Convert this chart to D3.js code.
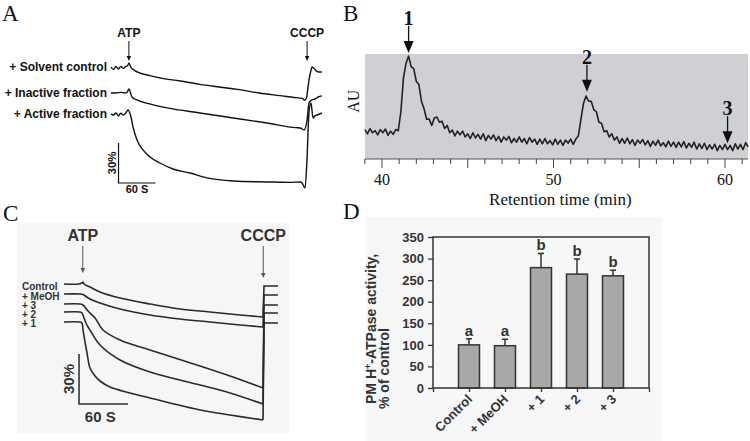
<!DOCTYPE html>
<html><head><meta charset="utf-8">
<script src="https://cdn.jsdelivr.net/npm/d3@7"></script>
<style>body{margin:0;background:#fff}svg{display:block}</style>
</head><body>
<svg id="fig" width="750" height="441"></svg>
<script>
// ---------------- DATA ----------------
// Panel A: fluorescence traces [time (s), signal (%)]
const traceA_solvent = [[0,87],[4,85],[8,87.5],[12,85.5],[16,87.5],[20,86],[24,87.5],[27,88],[29,90],[32,87],[38,84.5],[47,82.5],[63,80.5],[79,78.8],[112,76.5],[144,74],[176,72],[209,70],[240,67.5],[274,65.5],[300,64],[310,63.5],[314,62],[317,64],[321,77],[324,84],[326,87],[329,86],[332,84.5],[336,83.3],[342,83.3]];
const traceA_inactive = [[0,67.5],[8,67.5],[16,68],[22,67.5],[26,68],[29,70.5],[34,64.5],[42,62.3],[63,59.3],[91,56.3],[144,52.5],[198,48.8],[253,45],[300,41.5],[307,41.3],[313,39.8],[318,47.3],[321,60],[326,62.3],[331,63],[336,64.5],[342,65.3]];
const traceA_active = [[0,51.8],[4,51],[8,52.5],[12,50.3],[16,52.3],[20,51],[24,52.5],[27.6,54.8],[32.4,49.5],[35.7,42],[42.2,32.3],[51.9,24.8],[63.2,19.5],[79.5,15],[100.5,10.5],[128,7.5],[155.7,3.8],[197.8,1.5],[253,0.8],[290,0.5],[306.5,0.8],[310,0],[314.6,-3.8],[317.8,17.3],[321,52.5],[324.3,60],[327.6,48.8],[331,50.5],[334,51],[342,52.5]];
const labelsA = ["+ Solvent control", "+ Inactive fraction", "+ Active fraction"];
const labelValuesA = [87, 67.5, 51.8];
const eventsA = [["ATP", 29], ["CCCP", 318]];

// Panel B: chromatogram, absorbance (AU) sampled every 0.15 min from 39.0 min
const rtStart = 39.0, rtStep = 0.15;
const auValues = [28,24,29,25,27,23,28,25,28.5,22.5,26.5,23.5,28,27,45,77,91,98,88,86,74,71,55,48,38,38,32,39,40,35,36,29,32,25,27.5,22,26.5,23,26.5,21,24,19.5,25,20,23.5,19,24,17.5,22.5,19,23,17.5,21.5,16,21,18,21.5,15.5,19.5,16,21,16,19.5,14.5,20.5,16,19,14,19,14.5,19.5,14.5,17.5,13.5,19,14,18,13,18,15,19,14,19,22,38,53,60,55,55,47,45,35,34,26,27,21,24,18,21,15,19.5,15,20,14.5,18.5,13,18,15,18.5,13.5,17.5,12,17,13,18,12.5,15.5,11.5,17,12,16,11,16,11.5,16.5,10.5,15,11,16,9.5,14.5,10,15,9,13.5,9.5,14,8,13,9,14,9,13,8,14.5,9.5,14,9,15.5,11.5];
const peakLabels = ["1", "2", "3"];
const peakTimes = [41.55, 51.95, 60.15];
const peakArrowTips = [101, 64, 15];
const rtTickLabels = [40, 50, 60];
const rtMajorTicks = [40, 45, 50, 55, 60];
const rtMinorTicks = [39,41,42,43,44,46,47,48,49,51,52,53,54,56,57,58,59,61];

// Panel C: fluorescence traces [time (s), signal (%)]; last two points = CCCP recovery
const traceC_control = [[0,87.6],[18,87.6],[22,88.2],[23.3,88.8],[24.5,87.6],[31.8,85.8],[44.1,82.8],[68.6,79.2],[105.3,75.6],[142,72.6],[178.8,70.8],[215.5,69],[243.7,67.8],[244.9,86.4],[262,86.4]];
const traceC_meoh = [[0,81.6],[19.6,81.6],[23.3,81.3],[24.5,81],[31.8,78.6],[44.1,76.2],[68.6,72.6],[105.3,69],[142,66.6],[178.8,64.8],[215.5,63],[243.7,61.8],[244.9,81],[262,81]];
const traceC_3 = [[0,75.6],[19.6,75.6],[23.3,75],[29.4,71.4],[38,67.2],[47.8,60],[68.6,54],[105.3,48],[166.5,38.4],[203.3,32.4],[243.7,25.2],[244.9,75],[262,75]];
const traceC_2 = [[0,70.8],[19.6,70.8],[22,70.2],[24.5,67.2],[26.9,64.2],[29.4,61.8],[31.8,60],[44.1,51],[68.6,42],[105.3,34.8],[166.5,27],[203.3,22.2],[243.7,15.6],[244.9,70.2],[262,70.2]];
const traceC_1 = [[0,64.8],[19.6,64.8],[22,64.2],[23.3,60],[25.7,52.8],[28.2,46.2],[31.8,37.2],[38,32.4],[44.1,29.4],[56.3,25.8],[80.8,22.2],[105.3,19.2],[166.5,12],[203.3,9],[243.7,6],[244.9,64.2],[262,64.2]];
const labelsC = ["Control", "+ MeOH", "+ 3", "+ 2", "+ 1"];
const labelValuesC = [86.4, 80.4, 75, 69.6, 64.2];
const eventsC = [["ATP", 23], ["CCCP", 244]];

// Panel D: bar chart
const dCategories = ["Control", "+ MeOH", "+ 1", "+ 2", "+ 3"];
const dValues = [100, 98, 279, 264, 260];
const dErrors = [14, 15, 33, 35, 13];
const dLetters = ["a", "a", "b", "b", "b"];
const dTicks = [0, 50, 100, 150, 200, 250, 300, 350];

// ---------------- DRAWING ----------------
const SANS = "'Liberation Sans', Arial, sans-serif";
const SERIF = "'Liberation Serif', 'Times New Roman', serif";
const svg = d3.select("#fig");

function panelLetter(t, x, y) {
  svg.append("text").attr("x", x).attr("y", y).text(t)
    .attr("font-family", SERIF).attr("font-size", 23).attr("fill", "#111");
}
function thinArrow(g, x, y1, y2, color, head) {
  g.append("line").attr("x1", x).attr("x2", x).attr("y1", y1).attr("y2", y2 - head)
    .attr("stroke", color).attr("stroke-width", 1);
  g.append("path").attr("d", `M${x - head * 0.45},${y2 - head}L${x + head * 0.45},${y2 - head}L${x},${y2}Z`)
    .attr("fill", color);
}

// ===== Panel A =====
panelLetter("A", 2, 21);
const gA = svg.append("g");
const xA = d3.scaleLinear().domain([0, 350]).range([111, 111 + 350 * 37 / 60]);
const yA = d3.scaleLinear().domain([0, 30]).range([183, 143]);
const lineA = d3.line().x(d => xA(d[0])).y(d => yA(d[1])).curve(d3.curveMonotoneX);
[traceA_solvent, traceA_inactive, traceA_active].forEach((tr, i) => {
  gA.append("path").attr("d", lineA(tr)).attr("fill", "none")
    .attr("stroke", "#111").attr("stroke-width", 1.4);
  gA.append("text").attr("x", xA(0) - 4).attr("y", yA(labelValuesA[i])).attr("dy", "0.35em")
    .attr("text-anchor", "end").attr("font-family", SANS).attr("font-weight", "bold")
    .attr("font-size", 12).attr("fill", "#111").text(labelsA[i]);
});
eventsA.forEach(([name, t]) => {
  gA.append("text").attr("x", xA(t)).attr("y", 37).attr("text-anchor", "middle")
    .attr("font-family", SANS).attr("font-weight", "bold").attr("font-size", 12).attr("fill", "#111").text(name);
  thinArrow(gA, xA(t), 41, 61, "#111", 5);
});
const sbA = [12.2, 0];
gA.append("path").attr("d", `M${xA(sbA[0])},${yA(sbA[1] + 30)}V${yA(sbA[1])}H${xA(sbA[0] + 60)}`)
  .attr("fill", "none").attr("stroke", "#111").attr("stroke-width", 1.2);
gA.append("text").attr("transform", `translate(${xA(sbA[0]) - 3},${yA(sbA[1] + 15)}) rotate(-90)`)
  .attr("text-anchor", "middle").attr("font-family", SANS).attr("font-weight", "bold")
  .attr("font-size", 11.5).attr("fill", "#111").text("30%");
gA.append("text").attr("x", xA(sbA[0] + 30)).attr("y", yA(sbA[1]) + 10).attr("text-anchor", "middle")
  .attr("font-family", SANS).attr("font-weight", "bold").attr("font-size", 11).attr("fill", "#111").text("60 S");

// ===== Panel B =====
panelLetter("B", 343, 21);
const gB = svg.append("g");
const xB = d3.scaleLinear().domain([40, 60]).range([382, 725]);
const yB = d3.scaleLinear().domain([0, 100]).range([159, 54]);
const bDomainEnd = xB.invert(748), bDomainStart = xB.invert(365);
gB.append("rect").attr("x", xB(bDomainStart)).attr("y", yB(100))
  .attr("width", xB(bDomainEnd) - xB(bDomainStart)).attr("height", yB(0) - yB(100))
  .attr("fill", "#cfd0d3");
const lineB = d3.line().x((d, i) => xB(rtStart + i * rtStep)).y(d => yB(d));
gB.append("path").attr("d", lineB(auValues)).attr("fill", "none")
  .attr("stroke", "#222").attr("stroke-width", 1.6).attr("stroke-linejoin", "round");
const axB = gB.append("g").attr("transform", `translate(0,${yB(0)})`);
axB.append("line").attr("x1", xB(bDomainStart)).attr("x2", xB(bDomainEnd)).attr("stroke", "#555").attr("stroke-width", 1);
axB.selectAll(".minor").data(rtMinorTicks).join("line").attr("class", "minor")
  .attr("x1", d => xB(d)).attr("x2", d => xB(d)).attr("y1", 0).attr("y2", 5).attr("stroke", "#444");
axB.selectAll(".major").data(rtMajorTicks).join("line").attr("class", "major")
  .attr("x1", d => xB(d)).attr("x2", d => xB(d)).attr("y1", 0).attr("y2", 9).attr("stroke", "#444");
axB.selectAll(".tl").data(rtTickLabels).join("text").attr("class", "tl")
  .attr("x", d => xB(d)).attr("y", 26).attr("text-anchor", "middle")
  .attr("font-family", SERIF).attr("font-size", 16).attr("fill", "#111").text(d => d);
gB.append("text").attr("x", xB(50.4)).attr("y", 205).attr("text-anchor", "middle")
  .attr("font-family", SERIF).attr("font-size", 17).attr("fill", "#111").text("Retention time (min)");
gB.append("text").attr("transform", `translate(359,${yB(55)}) rotate(-90)`).attr("text-anchor", "middle")
  .attr("font-family", SERIF).attr("font-size", 16).attr("fill", "#111").text("AU");
peakLabels.forEach((lab, i) => {
  const x = xB(peakTimes[i]), tip = yB(peakArrowTips[i]);
  gB.append("line").attr("x1", x).attr("x2", x).attr("y1", tip - 27).attr("y2", tip - 10)
    .attr("stroke", "#111").attr("stroke-width", 1.3);
  gB.append("path").attr("d", `M${x - 5},${tip - 12}L${x + 5},${tip - 12}L${x},${tip}Z`).attr("fill", "#111");
  gB.append("text").attr("x", x).attr("y", tip - 28).attr("text-anchor", "middle")
    .attr("font-family", SERIF).attr("font-weight", "bold").attr("font-size", 20).attr("fill", "#111").text(lab);
});

// ===== Panel C =====
svg.append("rect").attr("x", 17).attr("y", 223).attr("width", 272).attr("height", 210).attr("fill", "#f6f6f6");
panelLetter("C", 3, 221);
const gC = svg.append("g");
const xC = d3.scaleLinear().domain([0, 262]).range([64, 64 + 262 * 49 / 60]);
const yC = d3.scaleLinear().domain([0, 30]).range([430, 380]);
const lineCsmooth = d3.line().x(d => xC(d[0])).y(d => yC(d[1])).curve(d3.curveCatmullRom.alpha(0.5));
const lineCstraight = d3.line().x(d => xC(d[0])).y(d => yC(d[1]));
const tracesC = [traceC_control, traceC_meoh, traceC_3, traceC_2, traceC_1];
tracesC.forEach(tr => {
  gC.append("path").attr("d", lineCsmooth(tr.slice(0, -2))).attr("fill", "none")
    .attr("stroke", "#2a2a2a").attr("stroke-width", 1.6);
  gC.append("path").attr("d", lineCstraight(tr.slice(-3))).attr("fill", "none")
    .attr("stroke", "#2a2a2a").attr("stroke-width", 1.6);
});
labelsC.forEach((lab, i) => {
  gC.append("text").attr("x", 22).attr("y", yC(labelValuesC[i]) + 3.5)
    .attr("font-family", SANS).attr("font-weight", "bold").attr("font-size", 10).attr("fill", "#333").text(lab);
});
eventsC.forEach(([name, t]) => {
  gC.append("text").attr("x", xC(t)).attr("y", 241).attr("text-anchor", "middle")
    .attr("font-family", SANS).attr("font-weight", "bold").attr("font-size", 16).attr("fill", "#333").text(name);
  thinArrow(gC, xC(t), 246, name === "ATP" ? 273 : 278, "#555", 5);
});
const sbC = [18.4, 15.6];
gC.append("path").attr("d", `M${xC(sbC[0])},${yC(sbC[1] + 30)}V${yC(sbC[1])}H${xC(sbC[0] + 60)}`)
  .attr("fill", "none").attr("stroke", "#333").attr("stroke-width", 1.6);
gC.append("text").attr("transform", `translate(${xC(sbC[0]) - 5},${yC(sbC[1] + 15)}) rotate(-90)`)
  .attr("text-anchor", "middle").attr("font-family", SANS).attr("font-weight", "bold")
  .attr("font-size", 15).attr("fill", "#333").text("30%");
gC.append("text").attr("x", xC(sbC[0] + 26)).attr("y", yC(sbC[1]) + 18).attr("text-anchor", "middle")
  .attr("font-family", SANS).attr("font-weight", "bold").attr("font-size", 15).attr("fill", "#333").text("60 S");

// ===== Panel D =====
svg.append("rect").attr("x", 366).attr("y", 217).attr("width", 296).attr("height", 224).attr("fill", "#f7f7f7");
panelLetter("D", 343, 219);
const gD = svg.append("g");
const xD = d3.scaleLinear().domain([0, dCategories.length + 1]).range([433, 649]);
const yD = d3.scaleLinear().domain([0, 350]).range([388, 237]);
const barW = 21;
gD.selectAll(".bar").data(dValues).join("rect").attr("class", "bar")
  .attr("x", (d, i) => xD(i + 1) - barW / 2).attr("y", d => yD(d))
  .attr("width", barW).attr("height", d => yD(0) - yD(d))
  .attr("fill", "#a8a8a8").attr("stroke", "#333").attr("stroke-width", 1.5);
dValues.forEach((v, i) => {
  const cx = xD(i + 1), top = yD(v + dErrors[i]);
  gD.append("line").attr("x1", cx).attr("x2", cx).attr("y1", yD(v)).attr("y2", top).attr("stroke", "#333").attr("stroke-width", 1.5);
  gD.append("line").attr("x1", cx - 3).attr("x2", cx + 3).attr("y1", top).attr("y2", top).attr("stroke", "#333").attr("stroke-width", 1.5);
  gD.append("text").attr("x", cx).attr("y", top - 3).attr("text-anchor", "middle")
    .attr("font-family", SANS).attr("font-weight", "bold").attr("font-size", 15).attr("fill", "#333").text(dLetters[i]);
  gD.append("text").attr("transform", `translate(${cx + 4},${yD(0) + 12}) rotate(-45)`)
    .attr("text-anchor", "end").attr("font-family", SANS).attr("font-weight", "bold")
    .attr("font-size", 13).attr("fill", "#333").text(dCategories[i]);
});
gD.append("rect").attr("x", xD(0)).attr("y", yD(350)).attr("width", xD(dCategories.length + 1) - xD(0))
  .attr("height", yD(0) - yD(350)).attr("fill", "none").attr("stroke", "#333").attr("stroke-width", 1.5);
const axDy = gD.append("g").attr("transform", `translate(${xD(0)},0)`)
  .call(d3.axisLeft(yD).tickValues(dTicks).tickSize(5).tickPadding(4));
axDy.select(".domain").remove();
axDy.selectAll("line").attr("stroke", "#333").attr("stroke-width", 1.3);
axDy.selectAll("text").attr("font-family", SANS).attr("font-weight", "bold").attr("font-size", 13).attr("fill", "#333");
const axDx = gD.append("g").attr("transform", `translate(0,${yD(0)})`)
  .call(d3.axisBottom(xD).tickValues(d3.range(0, dCategories.length + 2)).tickSize(4).tickFormat(""));
axDx.select(".domain").remove();
axDx.selectAll("line").attr("stroke", "#333").attr("stroke-width", 1.3);
const yl = gD.append("text").attr("transform", `translate(376,404) rotate(-90)`)
  .attr("font-family", SANS).attr("font-weight", "bold").attr("font-size", 14).attr("fill", "#333");
yl.append("tspan").text("PM H");
yl.append("tspan").attr("baseline-shift", "super").attr("font-size", 9).text("+");
yl.append("tspan").text("-ATPase activity,");
gD.append("text").attr("transform", `translate(389,409) rotate(-90)`)
  .attr("font-family", SANS).attr("font-weight", "bold").attr("font-size", 14).attr("fill", "#333").text("% of control");
</script>
</body></html>
